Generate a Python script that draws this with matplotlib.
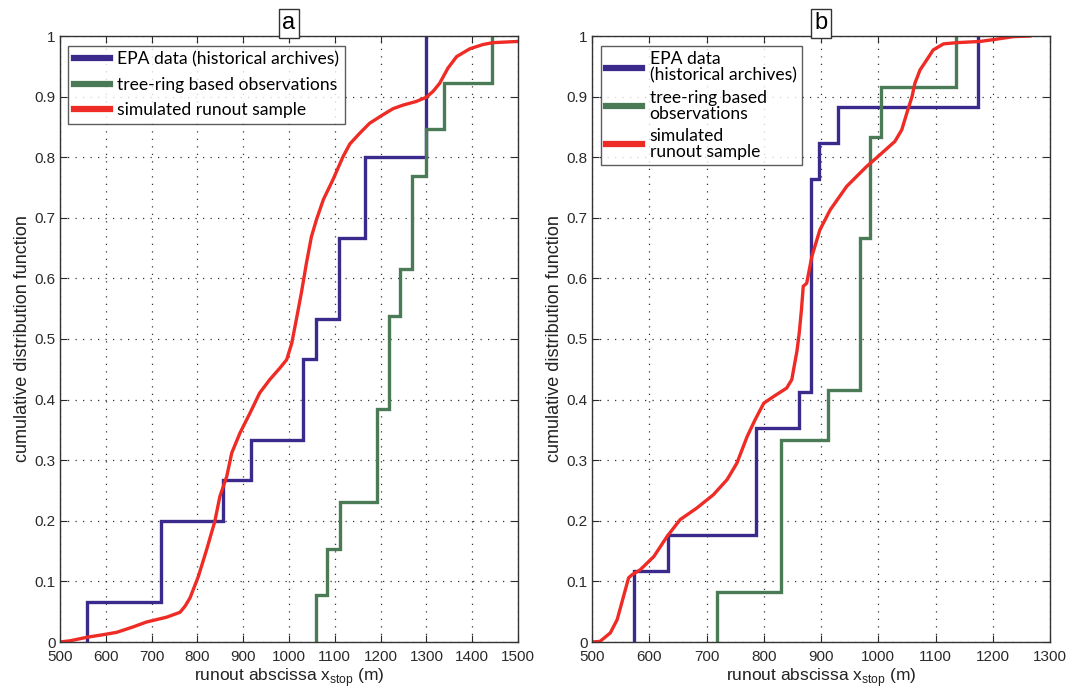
import matplotlib
matplotlib.use("Agg")
import matplotlib.pyplot as plt

# ---------------- data ----------------
# Panel a
epa_a_x = [560, 720, 855, 917, 1031, 1058, 1109, 1166, 1300]
epa_a_y = [1/15, 3/15, 4/15, 5/15, 7/15, 8/15, 10/15, 12/15, 15/15]
tree_a_x = [1058, 1084, 1111, 1192, 1218, 1242, 1269, 1300, 1339, 1444]
tree_a_y = [1/13, 2/13, 3/13, 5/13, 7/13, 8/13, 10/13, 11/13, 12/13, 13/13]
sim_a_x = [500, 522, 560, 594, 624, 660, 689, 711, 733, 762, 773, 784, 802, 820,
           838, 849, 864, 875, 893, 915, 936, 958, 980, 995, 1006, 1016, 1027,
           1038, 1049, 1060, 1075, 1096, 1118, 1133, 1155, 1176, 1205, 1227,
           1249, 1278, 1300, 1315, 1329, 1347, 1366, 1395, 1424, 1445, 1500]
sim_a_y = [0.0, 0.002, 0.008, 0.012, 0.016, 0.025, 0.033, 0.037, 0.041, 0.049,
           0.059, 0.073, 0.108, 0.152, 0.199, 0.240, 0.273, 0.312, 0.345, 0.378,
           0.411, 0.433, 0.452, 0.466, 0.493, 0.532, 0.576, 0.625, 0.669, 0.697,
           0.730, 0.763, 0.801, 0.822, 0.840, 0.856, 0.870, 0.880, 0.886, 0.892,
           0.899, 0.909, 0.922, 0.947, 0.966, 0.979, 0.986, 0.989, 0.991]

# Panel b
epa_b_x = [573, 633, 786, 861, 882, 897, 930, 1174]
epa_b_y = [2/17, 3/17, 6/17, 7/17, 13/17, 14/17, 15/17, 17/17]
tree_b_x = [718, 830, 913, 968, 985, 1005, 1136]
tree_b_y = [1/12, 4/12, 5/12, 8/12, 10/12, 11/12, 12/12]
sim_b_x = [500, 514, 532, 544, 555, 564, 570, 584, 608, 631, 654, 683, 712, 736,
           753, 771, 785, 800, 817, 840, 849, 852, 858, 862, 866, 869, 875, 884,
           898, 916, 945, 980, 1003, 1029, 1041, 1050, 1059, 1064, 1073, 1085,
           1096, 1114, 1137, 1178, 1201, 1236, 1265]
sim_b_y = [0.0, 0.001, 0.015, 0.037, 0.075, 0.106, 0.111, 0.119, 0.141, 0.174,
           0.202, 0.221, 0.243, 0.268, 0.295, 0.339, 0.367, 0.394, 0.405, 0.419,
           0.433, 0.449, 0.480, 0.510, 0.550, 0.587, 0.592, 0.636, 0.680, 0.713,
           0.752, 0.785, 0.804, 0.826, 0.845, 0.873, 0.900, 0.922, 0.944, 0.961,
           0.977, 0.987, 0.989, 0.991, 0.994, 0.999, 1.0]

labels_a = ["EPA data (historical archives)", "tree-ring based observations",
            "simulated runout sample"]
labels_b = ["EPA data\n(historical archives)", "tree-ring based\nobservations",
            "simulated\nrunout sample"]

yticks = [0, 0.1, 0.2, 0.3, 0.4, 0.5, 0.6, 0.7, 0.8, 0.9, 1]
ytick_labels = ["0", "0.1", "0.2", "0.3", "0.4", "0.5", "0.6", "0.7", "0.8", "0.9", "1"]

BLUE = "#3b2a8c"
GREEN = "#4a7a56"
RED = "#ee2b24"

plt.rcParams["font.family"] = ["Liberation Sans", "DejaVu Sans"]

fig = plt.figure(figsize=(10.69, 6.92), dpi=100)
W, H = 1069, 692
ax_a = fig.add_axes([60 / W, (H - 642) / H, 458 / W, 606 / H])
ax_b = fig.add_axes([592 / W, (H - 642) / H, 458 / W, 606 / H])


def step_xy(xs, ys):
    px, py = [], []
    prev = 0.0
    for x, y in zip(xs, ys):
        px += [x, x]
        py += [prev, y]
        prev = y
    return px, py


def draw(ax, ex, ey, tx, ty, sx, sy, xlim, xticks, labels, title, leg_bbox,
         bpad, lspace, lines_sp):
    px, py = step_xy(ex, ey)
    l1, = ax.plot(px, py, color=BLUE, lw=2.4, solid_joinstyle="miter")
    px, py = step_xy(tx, ty)
    l2, = ax.plot(px, py, color=GREEN, lw=2.4, solid_joinstyle="miter")
    l3, = ax.plot(sx, sy, color=RED, lw=2.4, solid_joinstyle="round")
    ax.set_xlim(*xlim)
    ax.set_ylim(0, 1)
    ax.set_xticks(xticks)
    ax.set_xticklabels([str(v) for v in xticks])
    ax.set_yticks(yticks)
    ax.set_yticklabels(ytick_labels)
    ax.tick_params(direction="in", top=True, right=True, length=5,
                   labelsize=11, colors="#2a2a2a")
    ax.tick_params(axis="x", pad=6)
    ax.tick_params(axis="y", pad=3)
    ax.grid(True, linestyle=(0, (1, 5)), color="#333333", lw=0.9)
    for s in ax.spines.values():
        s.set_color("#333333")
        s.set_linewidth(1.0)
    ax.set_xlabel("runout abscissa x$_{\\mathregular{stop}}$ (m)", fontsize=12.5,
                  labelpad=1, color="#222222")
    ax.set_ylabel("cumulative distribution function", fontsize=13,
                  labelpad=3, color="#222222")
    ax.text(0.5, 1.003, title, transform=ax.transAxes, ha="center", va="bottom",
            fontsize=17, bbox=dict(boxstyle="square,pad=0.15", fc="white",
                                   ec="#333333", lw=1.0))
    leg = ax.legend([l1, l2, l3], labels, loc="upper left", bbox_to_anchor=leg_bbox,
                    frameon=True, fancybox=False, edgecolor="#333333",
                    prop={"family": ["Lato", "DejaVu Sans"], "size": 12.6},
                    handlelength=2.05, handletextpad=0.43, borderpad=bpad,
                    labelspacing=lspace, borderaxespad=0.0)
    for line in leg.get_lines():
        line.set_linewidth(4.5)
    for t in leg.get_texts():
        t.set_linespacing(lines_sp)
    leg.get_frame().set_linewidth(1.0)


draw(ax_a, epa_a_x, epa_a_y, tree_a_x, tree_a_y, sim_a_x, sim_a_y,
     (500, 1500), list(range(500, 1501, 100)), labels_a, "a",
     (8.3 / 458, 1 - 9.7 / 606), 0.33, 0.53, 1.0)
draw(ax_b, epa_b_x, epa_b_y, tree_b_x, tree_b_y, sim_b_x, sim_b_y,
     (500, 1300), list(range(500, 1301, 100)), labels_b, "b",
     (8.7 / 458, 1 - 9.7 / 606), 0.31, 0.36, 1.0)

fig.savefig("out.png", dpi=100)
